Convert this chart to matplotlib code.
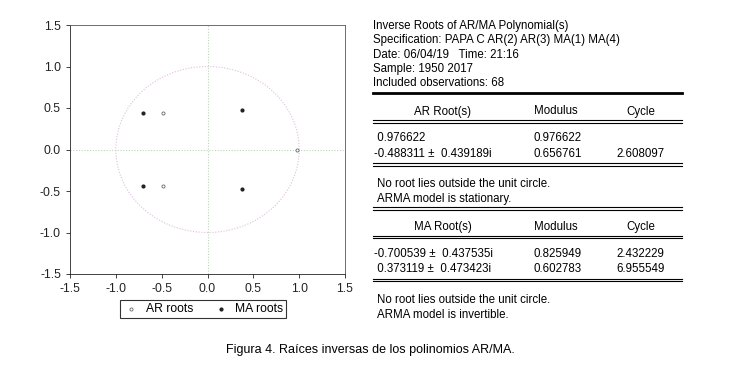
import numpy as np
import matplotlib.pyplot as plt

plt.rcParams['font.family'] = ['Liberation Sans', 'DejaVu Sans']

# inverse roots
ar_re = [0.976622, -0.488311, -0.488311]
ar_im = [0.0, 0.439189, -0.439189]
ma_re = [-0.700539, -0.700539, 0.373119, 0.373119]
ma_im = [0.437535, -0.437535, 0.473423, -0.473423]
ticks = [-1.5, -1.0, -0.5, 0.0, 0.5, 1.0, 1.5]

header = ["Inverse Roots of AR/MA Polynomial(s)",
          "Specification: PAPA C AR(2) AR(3) MA(1) MA(4)",
          "Date: 06/04/19   Time: 21:16",
          "Sample: 1950 2017",
          "Included observations: 68"]
ar_rows = [(" 0.976622", "0.976622", ""),
           ("-0.488311 \u00b1  0.439189i", "0.656761", "2.608097")]
ma_rows = [("-0.700539 \u00b1  0.437535i", "0.825949", "2.432229"),
           (" 0.373119 \u00b1  0.473423i", "0.602783", "6.955549")]
ar_notes = ["No root lies outside the unit circle.", "ARMA model is stationary."]
ma_notes = ["No root lies outside the unit circle.", "ARMA model is invertible."]
caption = "Figura 4. Ra\u00edces inversas de los polinomios AR/MA."

W, H = 740, 368
fig = plt.figure(figsize=(W / 100, H / 100), dpi=100)
ax = fig.add_axes([70 / W, 1 - 274 / H, 275 / W, 249 / H])

t = np.linspace(0, 2 * np.pi, 400)
ax.plot(np.cos(t), np.sin(t), ls=(0, (1, 1.5)), color='#dcc0dc', lw=0.8)
ax.axhline(0, ls=(0, (1, 1.5)), color='#bcd4bc', lw=0.8)
ax.axvline(0, ls=(0, (1, 1.5)), color='#bcd4bc', lw=0.8)
ax.scatter(ar_re, ar_im, s=5, facecolors='white', edgecolors='#666666', lw=0.6,
           label='AR roots', zorder=3)
ax.scatter(ma_re, ma_im, s=4, color='#222222', label='MA roots', zorder=3)

ax.set_xlim(-1.5, 1.5)
ax.set_ylim(-1.5, 1.5)
ax.set_xticks(ticks)
ax.set_yticks(ticks)
ax.set_xticklabels([f"{v:.1f}" for v in ticks])
ax.set_yticklabels([f"{v:.1f}" for v in ticks])
ax.tick_params(labelsize=8.7, length=3, width=0.6, direction='out', colors='#222222')
for s in ax.spines.values():
    s.set_linewidth(0.6)
    s.set_color('#555555')
ax.spines['left'].set_color('#222222')
ax.spines['bottom'].set_color('#222222')

leg = ax.legend(loc='upper center', bbox_to_anchor=(0.484, -0.08), ncol=2,
                fontsize=8.7, frameon=True, fancybox=False, handletextpad=0.5,
                columnspacing=1.6, borderpad=0.25, handlelength=1.4, markerscale=1)
leg.get_frame().set_edgecolor('black')
leg.get_frame().set_linewidth(0.8)


def px(x, y):
    return x / W, 1 - y / H


fs = 8.3
va = 'center_baseline'
for i, line in enumerate(header):
    fig.text(*px(373, 24 + i * 14.5), line, fontsize=fs, va=va, ha='left')


def hline(y, lw=0.8):
    fig.add_artist(plt.Line2D([373 / W, 682 / W], [1 - y / H, 1 - y / H],
                              color='black', lw=lw))


def dline(y):
    hline(y - 1.1)
    hline(y + 1.1)


col_c = [443, 556, 641]
col_l = [374, 533, 616]


def table(y0, title, rows, notes):
    for c, lab in zip(col_c, [title, "Modulus", "Cycle"]):
        fig.text(*px(c, y0), lab, fontsize=fs, va=va, ha='center')
    dline(y0 + 11.5)
    for r, row in enumerate(rows):
        for c, val in zip(col_l, row):
            fig.text(*px(c, y0 + 27 + r * 15.5), val, fontsize=fs, va=va, ha='left')
    dline(y0 + 54.5)
    for n, note in enumerate(notes):
        fig.text(*px(377, y0 + 73 + n * 14.5), note, fontsize=fs, va=va, ha='left')


hline(92.5, lw=2.0)
table(110, "AR Root(s)", ar_rows, ar_notes)
dline(208.5)
table(225.5, "MA Root(s)", ma_rows, ma_notes)

fig.text(*px(370, 349), caption, fontsize=9, va=va, ha='center')

fig.savefig('out.png', dpi=100)
